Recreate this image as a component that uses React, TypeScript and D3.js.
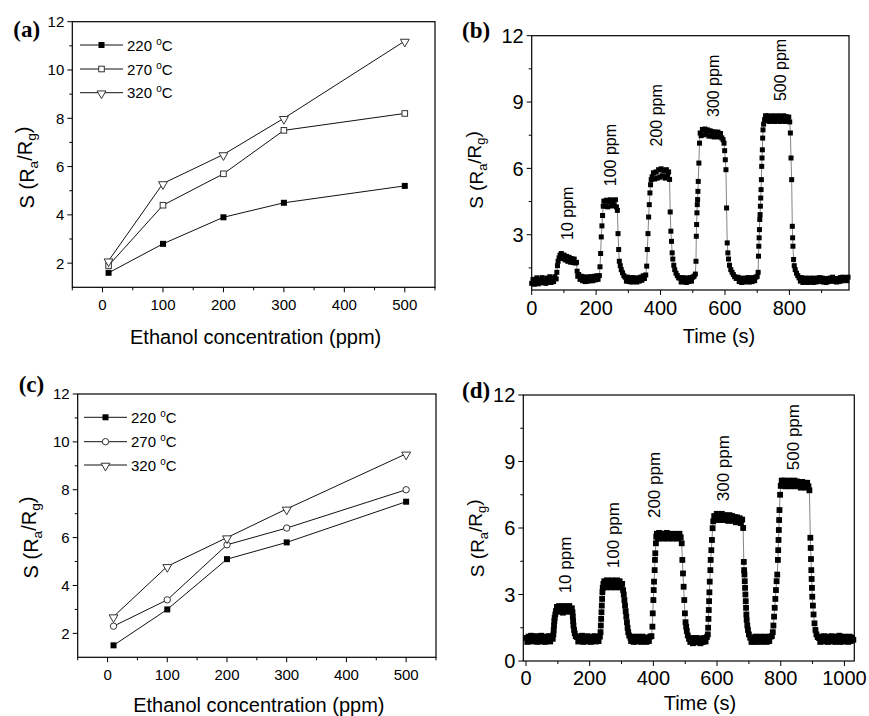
import React from 'react'
import * as d3 from 'd3'

// ethanol concentration (ppm) for the sensitivity panels
const conc = [10, 100, 200, 300, 500]
const temps = ['220', '270', '320']

// panel (a)
const a220 = [1.6, 2.8, 3.9, 4.5, 5.2]
const a270 = [1.9, 4.4, 5.7, 7.5, 8.2]
const a320 = [2.1, 5.3, 6.5, 8.0, 11.2]

// panel (c)
const c220 = [1.5, 3.0, 5.1, 5.8, 7.5]
const c270 = [2.3, 3.4, 5.7, 6.4, 8.0]
const c320 = [2.7, 4.8, 6.0, 7.2, 9.5]

const concTicks = [0, 100, 200, 300, 400, 500]
const concMinor = [-50, 50, 150, 250, 350, 450, 550]
const sTicks = [2, 4, 6, 8, 10, 12]
const sMinor = [3, 5, 7, 9, 11]

const timeTicksB = [0, 200, 400, 600, 800]
const timeTicksD = [0, 200, 400, 600, 800, 1000]
const timeMinor = [100, 300, 500, 700, 900]
const respTicks = [3, 6, 9, 12]
const respTicksD = [0, 3, 6, 9, 12]
const respMinor = [1.5, 4.5, 7.5, 10.5]

const gasLabels = ['10 ppm', '100 ppm', '200 ppm', '300 ppm', '500 ppm']
// where the labels sit, in data units [time, S]
const gasAtB: [number, number][] = [[109, 3.97], [243, 6.6], [386, 8.4], [562, 9.73], [772, 10.45]]
const gasAtD: [number, number][] = [[122, 4.33], [272, 5.68], [400, 7.94], [619, 8.7], [837, 10.1]]

// panel (b) response transient [time s, S]
const respB: [number, number][] = [
  [0, 0.8], [4, 0.98], [8, 0.76], [12, 0.95], [16, 1.05], [20, 0.78], [24, 0.98], [28, 0.82], [32, 1.06], [36, 0.84],
  [40, 1.0], [44, 0.8], [48, 1.04], [52, 0.86], [56, 1.1], [60, 0.84], [64, 1.02], [68, 0.88], [72, 1.1], [76, 1.0],
  [78, 1.3], [80, 1.6], [82, 1.8], [85, 1.95], [88, 2.08], [92, 2.15], [96, 1.92], [100, 2.08], [104, 1.86], [108, 2.02],
  [112, 1.8], [116, 1.98], [120, 1.76], [124, 1.92], [128, 1.74], [132, 1.9], [136, 1.72], [139, 1.75], [141, 1.35], [143, 1.12],
  [146, 1.2], [150, 0.98], [154, 1.12], [158, 0.92], [162, 1.1], [166, 0.88], [170, 1.06], [174, 0.9], [178, 1.1], [182, 0.92],
  [186, 1.1], [190, 0.92], [194, 1.12], [198, 0.96], [202, 1.14], [206, 0.98], [210, 1.15],
  [212, 1.55], [214, 2.15], [216, 2.9], [218, 3.4], [220, 3.87], [222, 4.29], [224, 4.52], [228, 4.3], [232, 4.56], [236, 4.26],
  [240, 4.5], [244, 4.58], [248, 4.3], [252, 4.54], [256, 4.34], [260, 4.58], [263, 4.26], [266, 4.1], [268, 3.05], [270, 2.33],
  [272, 1.8], [275, 1.6], [278, 1.42], [282, 1.28], [286, 1.15],
  [290, 1.08], [294, 0.9], [298, 1.08], [302, 0.88], [306, 1.04], [310, 0.86], [314, 1.06], [318, 0.88], [322, 1.04], [326, 0.86],
  [330, 1.04], [334, 0.9], [338, 1.08], [342, 0.94], [346, 1.14], [350, 1.02], [354, 1.18],
  [357, 1.58], [359, 2.33], [361, 3.05], [363, 3.8], [365, 4.36], [367, 4.89], [369, 5.26], [371, 5.49], [374, 5.62], [378, 5.8],
  [382, 5.52], [386, 5.84], [390, 5.56], [394, 5.94], [398, 5.6], [402, 5.98], [406, 5.66], [410, 5.9], [414, 5.56], [418, 5.94],
  [422, 5.66], [425, 5.84], [428, 5.5], [430, 4.03], [432, 3.16], [434, 2.7], [436, 2.18], [438, 1.9], [441, 1.62], [444, 1.42],
  [448, 1.26], [452, 1.15], [456, 1.05],
  [460, 1.04], [464, 0.86], [468, 1.06], [472, 0.88], [476, 1.04], [480, 0.84], [484, 1.04], [488, 0.88], [492, 1.06], [496, 0.9],
  [500, 1.08], [504, 1.12], [508, 1.22],
  [510, 1.8], [511, 2.93], [512, 3.46], [513, 3.99], [514, 4.36], [515, 4.59], [516, 4.96], [517, 5.41], [519, 6.24], [521, 7.14],
  [523, 7.6], [526, 7.48], [530, 7.76], [534, 7.52], [538, 7.78], [542, 7.56], [546, 7.74], [550, 7.46], [554, 7.7], [558, 7.46],
  [562, 7.66], [566, 7.42], [570, 7.64], [574, 7.44], [578, 7.64], [582, 7.42], [586, 7.58], [590, 7.38], [594, 7.3], [597, 7.14],
  [599, 6.8], [601, 6.39], [603, 5.94], [605, 4.21], [607, 2.63], [609, 2.18], [611, 1.9], [614, 1.62], [618, 1.42], [622, 1.3],
  [626, 1.2], [630, 1.1], [635, 1.02],
  [640, 1.08], [644, 0.88], [648, 1.04], [652, 0.84], [656, 1.02], [660, 0.86], [664, 1.04], [668, 0.88], [672, 1.06], [676, 0.86],
  [680, 1.04], [684, 0.88], [688, 1.06], [692, 0.92], [696, 1.08], [700, 1.12], [703, 1.3],
  [704, 2.03], [705, 2.48], [706, 2.86], [707, 3.23], [708, 3.69], [709, 3.91], [710, 4.29], [711, 4.66], [712, 5.04], [713, 5.49],
  [714, 6.09], [715, 6.47], [716, 6.84], [717, 7.37], [718, 7.74], [720, 8.0], [723, 8.2], [726, 8.38], [730, 8.16], [734, 8.38],
  [738, 8.12], [742, 8.34], [746, 8.16], [750, 8.38], [754, 8.12], [758, 8.34], [762, 8.16], [766, 8.38], [770, 8.12], [774, 8.34],
  [778, 8.16], [782, 8.38], [786, 8.12], [790, 8.34], [794, 8.16], [798, 8.32], [801, 8.1], [803, 7.6], [805, 6.47], [807, 5.49],
  [809, 3.38], [810, 2.86], [811, 2.48], [813, 1.88], [815, 1.6], [818, 1.42], [822, 1.26], [826, 1.15], [830, 1.05],
  [834, 0.9], [838, 1.06], [842, 0.84], [846, 1.02], [850, 0.86], [854, 1.04], [858, 0.84], [862, 1.02], [866, 0.88], [870, 1.04],
  [874, 0.84], [878, 1.01], [882, 0.86], [886, 1.04], [890, 0.89], [894, 1.06], [898, 0.88], [902, 1.04], [906, 0.86], [910, 1.02],
  [914, 0.84], [918, 1.01], [922, 0.88], [926, 1.04], [930, 0.9], [934, 1.08], [938, 0.9], [942, 1.02], [946, 0.86], [950, 1.01],
  [954, 0.88], [958, 1.06], [962, 0.91], [966, 1.08], [970, 0.94], [974, 1.06], [978, 0.92], [982, 1.08],
]

// panel (d) response transient [time s, S]
const respD: [number, number][] = [
  [0, 1.04], [4, 0.86], [8, 1.1], [12, 0.9], [16, 1.14], [20, 0.88], [24, 1.1], [28, 0.9], [32, 1.12], [36, 0.86],
  [40, 1.06], [44, 0.9], [48, 1.14], [52, 0.88], [56, 1.08], [60, 0.86], [64, 1.1], [68, 0.9], [72, 1.12], [76, 0.88],
  [80, 1.1], [84, 1.0],
  [86, 1.2], [87, 1.4], [88, 1.6], [89, 1.8], [90, 1.95], [92, 2.1], [94, 2.25], [97, 2.44], [100, 2.26], [104, 2.48],
  [108, 2.22], [112, 2.44], [116, 2.18], [120, 2.48], [124, 2.26], [128, 2.44], [132, 2.22], [136, 2.48], [140, 2.26], [144, 2.38],
  [146, 2.2], [147, 2.0], [148, 1.8], [149, 1.6], [151, 1.4], [153, 1.25], [156, 1.12],
  [160, 1.08], [164, 0.88], [168, 1.1], [172, 0.9], [176, 1.14], [180, 0.86], [184, 1.06], [188, 0.9], [192, 1.12], [196, 0.88],
  [200, 1.04], [204, 0.86], [208, 1.1], [212, 0.9], [216, 1.12], [220, 0.88], [224, 1.06], [228, 0.9], [232, 1.1],
  [234, 1.3], [235, 1.6], [236, 1.9], [237, 2.2], [238, 2.5], [239, 2.8], [240, 3.1], [241, 3.3], [243, 3.48], [246, 3.6],
  [250, 3.32], [254, 3.64], [258, 3.36], [262, 3.6], [266, 3.32], [270, 3.64], [274, 3.36], [278, 3.56], [282, 3.32], [286, 3.64],
  [290, 3.36], [294, 3.6], [298, 3.32], [302, 3.48], [305, 3.2], [307, 3.0], [309, 2.75], [311, 2.5], [313, 2.25], [315, 2.0],
  [317, 1.75], [319, 1.5], [321, 1.3], [324, 1.15], [328, 1.05],
  [330, 0.9], [334, 1.1], [338, 0.86], [342, 1.06], [346, 0.88], [350, 1.1], [354, 0.9], [358, 1.04], [362, 0.86], [366, 1.1],
  [370, 0.9], [374, 1.06], [378, 0.86], [382, 1.04], [386, 0.9], [390, 1.1], [394, 1.12],
  [397, 1.55], [398, 2.15], [400, 2.75], [401, 3.2], [402, 3.58], [404, 4.1], [405, 4.56], [406, 4.86], [408, 5.31], [409, 5.61],
  [411, 5.74], [414, 5.52], [418, 5.78], [422, 5.56], [426, 5.74], [430, 5.52], [434, 5.74], [438, 5.56], [442, 5.78], [446, 5.52],
  [450, 5.74], [454, 5.56], [458, 5.7], [462, 5.52], [466, 5.74], [470, 5.56], [474, 5.7], [478, 5.52], [482, 5.74], [486, 5.58],
  [489, 5.31], [491, 4.56], [493, 3.95], [495, 3.35], [497, 2.75], [499, 2.15], [501, 1.75], [503, 1.55], [505, 1.35], [508, 1.15],
  [512, 1.0],
  [516, 0.86], [520, 1.04], [524, 0.8], [528, 1.0], [532, 0.84], [536, 1.04], [540, 0.86], [544, 1.02], [548, 0.8], [552, 1.0],
  [556, 0.86], [560, 1.04], [564, 0.88], [568, 1.08], [571, 1.2],
  [572, 1.5], [573, 1.9], [574, 2.3], [575, 2.7], [576, 3.1], [577, 3.58], [579, 4.1], [580, 4.56], [582, 5.0], [584, 5.46],
  [586, 5.99], [588, 6.3], [591, 6.54], [595, 6.36], [599, 6.64], [603, 6.42], [607, 6.6], [611, 6.36], [615, 6.64], [619, 6.36],
  [623, 6.58], [627, 6.42], [631, 6.56], [635, 6.32], [639, 6.58], [643, 6.36], [647, 6.54], [651, 6.32], [655, 6.5], [659, 6.26],
  [663, 6.48], [667, 6.26], [671, 6.44], [675, 6.22], [679, 6.38], [682, 6.0],
  [684, 4.47], [685, 4.1], [686, 3.9], [687, 3.6], [688, 3.3], [689, 3.0], [690, 2.7], [691, 2.4], [692, 2.1], [693, 1.85],
  [695, 1.6], [697, 1.4], [700, 1.2], [704, 1.05],
  [708, 0.86], [712, 1.04], [716, 0.88], [720, 1.1], [724, 0.86], [728, 1.04], [732, 0.9], [736, 1.1], [740, 0.86], [744, 1.06],
  [748, 0.9], [752, 1.1], [756, 0.86], [760, 1.04], [764, 0.9], [768, 1.1], [772, 1.12],
  [775, 1.3], [777, 1.6], [779, 2.0], [781, 2.4], [783, 2.8], [785, 3.2], [787, 3.6], [789, 3.9], [791, 4.56], [792, 5.0],
  [793, 5.46], [794, 5.91], [795, 6.36], [796, 6.81], [798, 7.5], [800, 7.9], [803, 8.14], [807, 7.92], [811, 8.14], [815, 7.88],
  [819, 8.1], [823, 7.92], [827, 8.14], [831, 7.88], [835, 8.1], [839, 7.92], [843, 8.14], [847, 7.88], [851, 8.1], [855, 7.92],
  [859, 8.06], [863, 7.82], [867, 8.08], [871, 7.86], [875, 8.04], [879, 7.82], [883, 8.04], [887, 7.88], [890, 7.7],
  [893, 5.56], [894, 5.1], [895, 4.6], [896, 4.1], [897, 3.7], [898, 3.3], [899, 2.9], [901, 2.5], [903, 2.1], [906, 1.7],
  [909, 1.4], [912, 1.2], [916, 1.08],
  [920, 1.04], [924, 0.86], [928, 1.1], [932, 0.9], [936, 1.12], [940, 0.88], [944, 1.06], [948, 0.86], [952, 1.1], [956, 0.9],
  [960, 1.12], [964, 0.88], [968, 1.04], [972, 0.86], [976, 1.1], [980, 0.9], [984, 1.14], [988, 0.86], [992, 1.04], [996, 0.88],
  [1000, 1.1], [1004, 0.9], [1008, 1.04], [1012, 0.86], [1016, 1.1], [1020, 0.9], [1024, 1.06], [1028, 0.96],
]

const SANS = '"Liberation Sans", Arial, Helvetica, sans-serif'
const SERIF = '"Liberation Serif", "Times New Roman", serif'

type Box = { l: number; t: number; r: number; b: number }
type Lin = d3.ScaleLinear<number, number>

const Frame = ({ box, x, y, xt, xm, yt, ym, fs, xOff }: {
  box: Box; x: Lin; y: Lin; xt: number[]; xm: number[]; yt: number[]; ym: number[]; fs: number; xOff: number
}) => (
  <g fontFamily={SANS} fontSize={fs}>
    <rect x={box.l} y={box.t} width={box.r - box.l} height={box.b - box.t} fill="none" stroke="#000" strokeWidth={1.2} />
    {xt.map((v) => (
      <g key={'xt' + v}>
        <line x1={x(v)} x2={x(v)} y1={box.b} y2={box.b + 5} stroke="#000" />
        <text x={x(v)} y={box.b + xOff} textAnchor="middle">{v}</text>
      </g>
    ))}
    {xm.map((v) => (
      <line key={'xm' + v} x1={x(v)} x2={x(v)} y1={box.b} y2={box.b + 3} stroke="#000" />
    ))}
    {yt.map((v) => (
      <g key={'yt' + v}>
        <line x1={box.l - 5} x2={box.l} y1={y(v)} y2={y(v)} stroke="#000" />
        <text x={box.l - 8} y={y(v)} dy="0.36em" textAnchor="end">{v}</text>
      </g>
    ))}
    {ym.map((v) => (
      <line key={'ym' + v} x1={box.l - 3} x2={box.l} y1={y(v)} y2={y(v)} stroke="#000" />
    ))}
  </g>
)

const YTitle = ({ x, y, fs }: { x: number; y: number; fs: number }) => (
  <text transform={`translate(${x},${y}) rotate(-90)`} textAnchor="middle" fontFamily={SANS} fontSize={fs}>
    S (R<tspan dy="0.3em" fontSize={fs * 0.68}>a</tspan>
    <tspan dy="-0.3em">/R</tspan>
    <tspan dy="0.3em" fontSize={fs * 0.68}>g</tspan>
    <tspan dy="-0.3em">)</tspan>
  </text>
)

const PanelTag = ({ x, y, t }: { x: number; y: number; t: string }) => (
  <text x={x} y={y} fontFamily={SERIF} fontWeight="bold" fontSize={23}>{t}</text>
)

type Mark = 'sqFill' | 'sqOpen' | 'circle' | 'tri'

const Marker = ({ kind, cx, cy }: { kind: Mark; cx: number; cy: number }) => {
  if (kind === 'sqFill') return <rect x={cx - 3} y={cy - 3} width={6} height={6} fill="#000" />
  if (kind === 'sqOpen') return <rect x={cx - 2.8} y={cy - 2.8} width={5.6} height={5.6} fill="#fff" stroke="#333" strokeWidth={1} />
  if (kind === 'circle') return <circle cx={cx} cy={cy} r={3.2} fill="#fff" stroke="#333" strokeWidth={1} />
  const tri = d3.symbol().type(d3.symbolTriangle).size(34)()
  return <path d={tri || ''} transform={`translate(${cx},${cy + 0.8}) rotate(180)`} fill="#fff" stroke="#333" strokeWidth={1} />
}

const SensPanel = ({ box, series, marks, tag, tagY, legendX, legendY, title }: {
  box: Box; series: number[][]; marks: Mark[]; tag: string; tagY: number; legendX: number; legendY: number[]; title: [number, number, number]
}) => {
  const x = d3.scaleLinear().domain([-50, 550]).range([box.l, box.r])
  const y = d3.scaleLinear().domain([1, 12]).range([box.b, box.t])
  const line = d3.line<number>().x((_, i) => x(conc[i])).y((d) => y(d))
  return (
    <g>
      <Frame box={box} x={x} y={y} xt={concTicks} xm={concMinor} yt={sTicks} ym={sMinor} fs={15} xOff={22.7} />
      {series.map((s, k) => (
        <g key={k}>
          <path d={line(s) || ''} fill="none" stroke="#111" strokeWidth={1} />
          {s.map((v, i) => <Marker key={i} kind={marks[k]} cx={x(conc[i])} cy={y(v)} />)}
        </g>
      ))}
      {temps.map((t, k) => (
        <g key={t}>
          <line x1={legendX} x2={legendX + 43} y1={legendY[k]} y2={legendY[k]} stroke="#111" />
          <Marker kind={marks[k]} cx={legendX + 21.5} cy={legendY[k]} />
          <text x={legendX + 47} y={legendY[k] + 5.5} fontFamily={SANS} fontSize={15}>
            {t + ' '}<tspan dy={-6} fontSize={10}>o</tspan><tspan dy={6}>C</tspan>
          </text>
        </g>
      ))}
      <YTitle x={title[0]} y={title[1]} fs={20} />
      <text x={(box.l + box.r) / 2 + 2} y={box.b + title[2]} textAnchor="middle" fontFamily={SANS} fontSize={20}>
        Ethanol concentration (ppm)
      </text>
      <PanelTag x={box.l - 59} y={tagY} t={tag} />
    </g>
  )
}

const RespPanel = ({ box, xDom, yDom, xt, yt, data, labelsAt, tag, tagXY, titleXY, xTitleXY, ms, lfs, xOff }: {
  box: Box; xDom: [number, number]; yDom: [number, number]; xt: number[]; yt: number[]; data: [number, number][]
  labelsAt: [number, number][]; tag: string; tagXY: [number, number]; titleXY: [number, number]; xTitleXY: [number, number]
  ms: number; lfs: number; xOff: number
}) => {
  const x = d3.scaleLinear().domain(xDom).range([box.l, box.r])
  const y = d3.scaleLinear().domain(yDom).range([box.b, box.t])
  const line = d3.line<[number, number]>().x((d) => x(d[0])).y((d) => y(d[1]))
  return (
    <g>
      <path d={line(data) || ''} fill="none" stroke="#666" strokeWidth={0.8} />
      {data.map((d, i) => (
        <rect key={i} x={x(d[0]) - ms / 2} y={y(d[1]) - ms / 2} width={ms} height={ms} fill="#000" />
      ))}
      <Frame box={box} x={x} y={y} xt={xt} xm={timeMinor} yt={yt} ym={respMinor} fs={20} xOff={xOff} />
      {gasLabels.map((g, i) => (
        <text key={g} transform={`translate(${x(labelsAt[i][0])},${y(labelsAt[i][1])}) rotate(-90)`} dy="0.36em"
          textAnchor="middle" fontFamily={SANS} fontSize={lfs}>{g}</text>
      ))}
      <YTitle x={titleXY[0]} y={titleXY[1]} fs={19} />
      <text x={xTitleXY[0]} y={xTitleXY[1]} textAnchor="middle" fontFamily={SANS} fontSize={20}>Time (s)</text>
      <PanelTag x={tagXY[0]} y={tagXY[1]} t={tag} />
    </g>
  )
}

export default function App() {
  return (
    <div>
      <style>{'body{margin:0}'}</style>
      <svg width={869} height={716} style={{ display: 'block', background: '#fff' }}>
        <SensPanel box={{ l: 72.3, t: 21.7, r: 435, b: 287.3 }} series={[a220, a270, a320]} marks={['sqFill', 'sqOpen', 'tri']}
          tag="(a)" tagY={37} legendX={80} legendY={[45, 69, 92.7]} title={[34, 167.5, 56.7]} />
        <SensPanel box={{ l: 77.7, t: 394, r: 436, b: 657.3 }} series={[c220, c270, c320]} marks={['sqFill', 'circle', 'tri']}
          tag="(c)" tagY={392} legendX={84} legendY={[417.3, 441.7, 465]} title={[38, 537.5, 54.4]} />
        <RespPanel box={{ l: 531.7, t: 35.7, r: 849, b: 290 }} xDom={[0, 985]} yDom={[0.5, 12]} xt={timeTicksB} yt={respTicks}
          data={respB} labelsAt={gasAtB} tag="(b)" tagXY={[462, 38]} titleXY={[483, 170]} xTitleXY={[719, 342.7]}
          ms={5} lfs={16} xOff={25} />
        <RespPanel box={{ l: 523.3, t: 395, r: 854.3, b: 661 }} xDom={[-8.5, 1031]} yDom={[0, 12]} xt={timeTicksD} yt={respTicksD}
          data={respD} labelsAt={gasAtD} tag="(d)" tagXY={[462, 398]} titleXY={[484, 538.3]} xTitleXY={[700, 710]}
          ms={5.8} lfs={17} xOff={24} />
      </svg>
    </div>
  )
}
